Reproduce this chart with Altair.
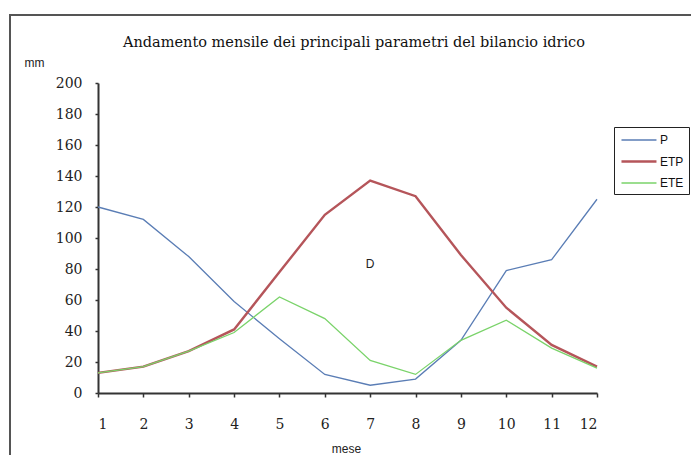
import altair as alt
import pandas as pd

months = list(range(1, 13))
P = [120, 112, 88, 59, 35, 12, 5, 9, 34, 79, 86, 125]
ETP = [13, 17, 27, 41, 78, 115, 137, 127, 89, 55, 31, 17]
ETE = [13, 17, 27, 39, 62, 48, 21, 12, 34, 47, 29, 16]
series = ["P", "ETP", "ETE"]
colors = ["#5a7db5", "#b5555a", "#7ad36a"]
widths = [1.3, 2.4, 1.3]
y_ticks = list(range(0, 201, 20))
annot_label = ["D"]
annot_x = [7]
annot_y = [83]
title_text = ["Andamento mensile dei principali parametri del bilancio idrico"]

rows = []
for name, vals in zip(series, [P, ETP, ETE]):
    for m, v in zip(months, vals):
        rows.append({"mese": m, "mm": v, "serie": name})
df = pd.DataFrame(rows)

x = alt.X("mese:Q", scale=alt.Scale(domain=[1, 12], nice=False, zero=False),
          axis=alt.Axis(values=months, title="mese", grid=False, tickSize=4,
                        labelPadding=20, titleX=248, titleY=55, titleBaseline="middle",
                        titleAnchor="middle", labelOverlap=False))
y = alt.Y("mm:Q", scale=alt.Scale(domain=[0, 200], nice=False),
          axis=alt.Axis(values=y_ticks, tickCount=11, title="mm", grid=False, tickSize=3,
                        labelPadding=13, titleAngle=0, titleAlign="left",
                        titleX=-74, titleY=-21, titleBaseline="middle",
                        labelOverlap=False))

leg = alt.Legend(title=None, orient="none", legendX=516, legendY=44,
                 symbolType="M-0.86,0L4.14,0", symbolSize=196,
                 strokeColor="#222", padding=5, rowPadding=7,
                 labelFont="Liberation Sans", labelFontSize=12, labelColor="#111",
                 labelOffset=24)

lines = alt.Chart(df).mark_line().encode(
    x=x, y=y,
    color=alt.Color("serie:N", sort=series,
                    scale=alt.Scale(domain=series, range=colors), legend=leg),
    strokeWidth=alt.StrokeWidth("serie:N", sort=series,
                                scale=alt.Scale(type="ordinal", domain=series, range=widths),
                                legend=leg),
)

annot = alt.Chart(pd.DataFrame({"t": annot_label, "mese": annot_x, "mm": annot_y})).mark_text(
    font="Liberation Sans", fontSize=12, color="#222"
).encode(x="mese:Q", y="mm:Q", text="t:N")

title = alt.Chart(pd.DataFrame({"t": title_text})).mark_text(
    font="DejaVu Serif", fontSize=14.5, color="#111", baseline="middle", align="center"
).encode(x=alt.value(256), y=alt.value(-40), text="t:N")

frame = alt.Chart(pd.DataFrame({"a": [0]})).mark_rect(
    fill=None, stroke="#555", strokeWidth=2
).encode(x=alt.value(-88), x2=alt.value(700), y=alt.value(-68), y2=alt.value(500))

chart = alt.layer(frame, lines, annot, title).properties(
    width=499, height=310,
    autosize=alt.AutoSizeParams(type="none"),
    padding={"left": 90, "top": 75, "right": 94, "bottom": 62},
    background="white",
).configure_view(stroke=None).configure_axis(
    domainColor="#333", domainWidth=2, tickColor="#333", tickWidth=1.5,
    labelFont="DejaVu Serif", labelFontSize=14, labelColor="#222",
    titleFont="Liberation Sans", titleFontSize=12, titleFontWeight="normal", titleColor="#222",
)

chart.save("out.html", embed_options={"renderer": "svg", "actions": False})
